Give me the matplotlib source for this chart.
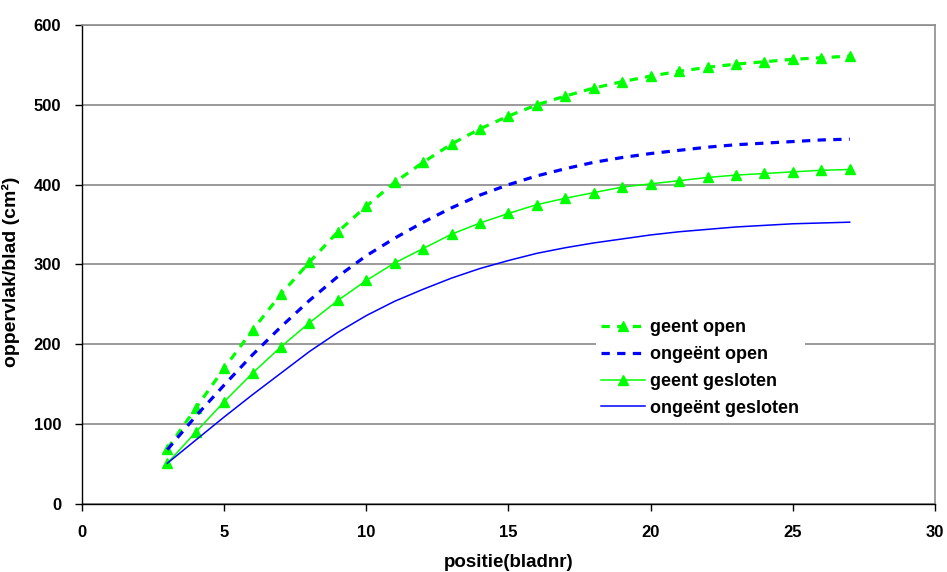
import numpy as np
import matplotlib
matplotlib.use("Agg")
import matplotlib.pyplot as plt

plt.rcParams['font.family'] = ['Liberation Sans', 'DejaVu Sans']
plt.rcParams['font.weight'] = 'bold'

# leaf position (leaf number) and leaf area per leaf in cm2
positie = np.arange(3, 28)

geent_open = [69, 120, 170, 218, 263, 303, 341, 373, 403, 428, 451, 470, 486,
              500, 511, 521, 529, 536, 542, 547, 551, 554, 557, 559, 561]
ongeent_open = [68, 110, 149, 187, 222, 255, 285, 311, 333, 353, 371, 387, 400,
                411, 420, 428, 434, 439, 443, 447, 450, 452, 454, 456, 457]
geent_gesloten = [51, 90, 128, 164, 197, 227, 255, 280, 302, 320, 338, 352, 364,
                  375, 383, 390, 397, 401, 405, 409, 412, 414, 416, 418, 419]
ongeent_gesloten = [51, 80, 109, 137, 164, 191, 215, 236, 254, 269, 283, 295, 305,
                    314, 321, 327, 332, 337, 341, 344, 347, 349, 351, 352, 353]

GREEN = '#00ff00'
BLUE = '#0000ff'

fig = plt.figure(figsize=(9.47, 5.72), dpi=100)
ax = fig.add_axes([0.0866, 0.1189, 0.9007, 0.8374])

ax.plot(positie, geent_open, color=GREEN, lw=2.3, linestyle=(0, (2.6, 2.3)),
        marker='^', markersize=7.5, label='geent open', zorder=3)
ax.plot(positie, ongeent_open, color=BLUE, lw=2.3, linestyle=(0, (2.6, 2.3)),
        label='ongeënt open', zorder=3)
ax.plot(positie, geent_gesloten, color=GREEN, lw=1.1,
        marker='^', markersize=7.5, label='geent gesloten', zorder=3)
ax.plot(positie, ongeent_gesloten, color=BLUE, lw=1.1,
        label='ongeënt gesloten', zorder=3)

ax.set_xlim(0, 30)
ax.set_ylim(0, 600)
ax.set_xticks(range(0, 31, 5))
ax.set_yticks(range(0, 601, 100))
ax.yaxis.grid(True, color='#7f7f7f', lw=1.1)
ax.set_axisbelow(True)

for side in ['left', 'bottom']:
    ax.spines[side].set_color('black')
    ax.spines[side].set_linewidth(1.0)
for side in ['top', 'right']:
    ax.spines[side].set_color('#8c8c8c')
    ax.spines[side].set_linewidth(1.2)

ax.tick_params(direction='out', length=5, width=1, labelsize=12)
ax.tick_params(axis='x', pad=10)
ax.tick_params(axis='y', pad=10)
ax.set_xlabel('positie(bladnr)', fontsize=13.5, fontweight='bold', labelpad=10)
ax.set_ylabel('oppervlak/blad (cm²)', fontsize=14, fontweight='bold', labelpad=4)
ax.yaxis.set_label_coords(-0.073, 0.485)

leg = ax.legend(loc='upper left', bbox_to_anchor=(596 / 947, 1 - 314 / 572),
                bbox_transform=fig.transFigure, frameon=True, fancybox=False,
                fontsize=13, handlelength=2.4, handletextpad=0.3,
                labelspacing=0.54, borderpad=0.3, borderaxespad=0)
leg.get_frame().set_facecolor('white')
leg.get_frame().set_edgecolor('none')
leg.get_frame().set_alpha(1)

fig.savefig('out.png', dpi=100)
